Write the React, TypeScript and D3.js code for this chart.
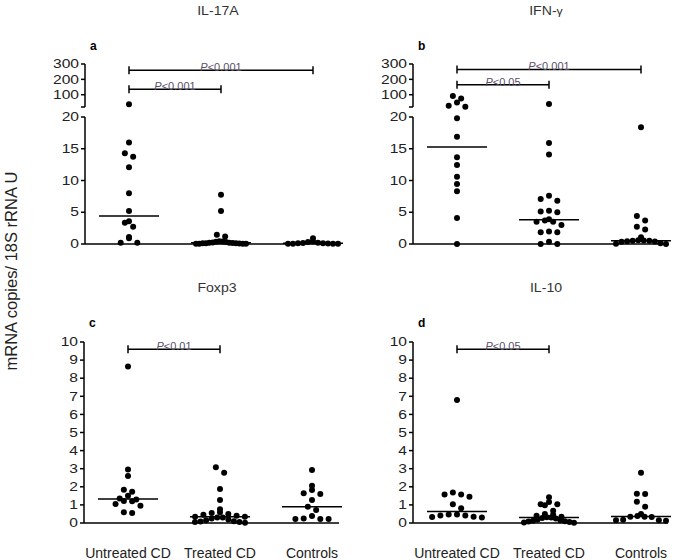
import React from "react";
import * as d3 from "d3";

const categories = ["Untreated CD", "Treated CD", "Controls"];

// Panel a: IL-17A
const il17aUntreated = [38, 16, 14.3, 13.75, 12.1, 8.0, 5.2, 3.6, 3.36, 2.73, 1.1, 0.9, 0.2, 0.2];
const il17aTreated = [7.77, 5.2, 1.47, 1.2, 0.45, 0.4, 0.35, 0.3, 0.25, 0.2, 0.18, 0.15, 0.12, 0.1, 0.1, 0.08, 0.05, 0.05, 0.03, 0.02];
const il17aControls = [0.9, 0.4, 0.3, 0.2, 0.15, 0.1, 0.1, 0.08, 0.05, 0.05, 0.03, 0.02];

// Panel b: IFN-gamma
const ifnUntreated = [92, 75, 50, 28, 22, 19.8, 16.9, 13.65, 12.45, 10.6, 9.45, 8.3, 4.1, 0];
const ifnTreated = [39.5, 15.9, 14.1, 7.6, 7.1, 6.8, 5.25, 5.1, 5.0, 3.9, 3.7, 3.5, 3.5, 3.0, 1.95, 1.85, 1.85, 0.37, 0, 0];
const ifnControls = [18.4, 4.4, 3.7, 2.7, 2.3, 1.05, 0.6, 0.55, 0.5, 0.5, 0.45, 0.4, 0.35, 0.1, 0.05, 0.0];

// Panel c: Foxp3
const foxUntreated = [8.64, 2.95, 2.6, 1.84, 1.73, 1.5, 1.35, 1.3, 1.22, 1.2, 1.05, 0.95, 0.6, 0.55];
const foxTreated = [3.08, 2.78, 1.88, 1.27, 0.76, 0.6, 0.55, 0.5, 0.45, 0.4, 0.35, 0.35, 0.3, 0.3, 0.25, 0.2, 0.15, 0.1, 0.08, 0.05, 0.05, 0.02];
const foxControls = [2.93, 2.06, 1.82, 1.64, 1.6, 1.27, 0.9, 0.72, 0.39, 0.25, 0.22, 0.22, 0.22];

// Panel d: IL-10
const il10Untreated = [6.8, 1.68, 1.58, 1.58, 1.45, 1.03, 0.81, 0.47, 0.47, 0.42, 0.42, 0.35, 0.33, 0.3];
const il10Treated = [1.42, 1.16, 1.03, 1.03, 0.98, 0.68, 0.5, 0.45, 0.4, 0.35, 0.32, 0.3, 0.28, 0.25, 0.2, 0.15, 0.12, 0.1, 0.08, 0.05, 0.03, 0.02];
const il10Controls = [2.78, 1.62, 1.6, 1.18, 0.9, 0.5, 0.38, 0.35, 0.35, 0.33, 0.18, 0.15, 0.15, 0.12];

// Ticks
const brokenLowerTicks = [0, 5, 10, 15, 20];
const brokenUpperTicks = [100, 200, 300];
const linearTicks = [0, 1, 2, 3, 4, 5, 6, 7, 8, 9, 10];

// Significance brackets: [fromIndex, toIndex, level (axis units), label]
const il17aBrackets: [number, number, number, string][] = [[0, 2, 260, "<0.001"], [0, 1, 135, "<0.001"]];
const ifnBrackets: [number, number, number, string][] = [[0, 2, 265, "<0.001"], [0, 1, 165, "<0.05"]];
const foxBrackets: [number, number, number, string][] = [[0, 1, 9.6, "<0.01"]];
const il10Brackets: [number, number, number, string][] = [[0, 1, 9.6, "<0.05"]];

const FONT = "'Liberation Sans', Arial, sans-serif";

// Column-scatter layout: group points into rows by pixel height,
// spread each row symmetrically (highest values in the middle),
// compressing the spacing if the row would be too wide.
function swarm(vals: number[], y: (v: number) => number, cx: number) {
  const step = 8.3, rowH = 5.5, maxW = 50;
  const pts = vals.map((v) => ({ v, y: y(v) })).sort((a, b) => b.y - a.y);
  const rows: { y: number }[][] = [];
  let cur: { y: number }[] = [];
  let start = 0;
  for (const p of pts) {
    if (cur.length === 0) {
      cur = [p];
      start = p.y;
    } else if (start - p.y < rowH) {
      cur.push(p);
    } else {
      rows.push(cur);
      cur = [p];
      start = p.y;
    }
  }
  if (cur.length) rows.push(cur);
  const placed: { x: number; y: number }[] = [];
  for (const row of rows) {
    const n = row.length;
    const sp = n > 1 ? Math.min(step, maxW / (n - 1)) : 0;
    const slots = d3.range(n).map((i) => i - (n - 1) / 2);
    slots.sort((a, b) => Math.abs(a) - Math.abs(b) || a - b);
    const byHeight = [...row].sort((a, b) => a.y - b.y);
    byHeight.forEach((p, i) => {
      placed.push({ x: cx + slots[i] * sp, y: p.y });
    });
  }
  return placed;
}

type PanelProps = {
  title: React.ReactNode;
  letter: string;
  groups: number[][];
  brackets: [number, number, number, string][];
  broken: boolean;
  axisX: number;
  top: boolean;
};

function Panel({ title, letter, groups, brackets, broken, axisX, top }: PanelProps) {
  const x = d3.scalePoint<string>().domain(categories).range([axisX + 44, axisX + 228]);
  const lower = broken
    ? d3.scaleLinear().domain([0, 20]).range([244, 117])
    : d3.scaleLinear().domain([0, 10]).range([523, 342]);
  const upper = d3.scaleLinear().domain([20, 300]).range([107, 64]);
  const yv = (v: number) => (broken && v > 20 ? upper(v) : lower(v));
  const baseY = lower(0);
  const axisEnd = axisX + 255;
  const titleY = top ? 15 : 292;
  const letterY = top ? 50 : 327;
  const midX = ((x(categories[0]) as number) + (x(categories[2]) as number)) / 2;

  const tickLabel = (v: number, yy: number) => (
    <g key={"t" + v + "-" + yy}>
      <line x1={axisX - 4} x2={axisX} y1={yy} y2={yy} stroke="#000" strokeWidth={1.5} />
      <text
        transform={`translate(${axisX - 6},${yy + 4.2}) scale(1.3,1)`}
        textAnchor="end"
        fontSize={12}
        fontFamily={FONT}
        fill="#222"
      >
        {v}
      </text>
    </g>
  );

  return (
    <g>
      <text
        transform={`translate(${midX - 3},${titleY}) scale(1.13,1)`}
        textAnchor="middle"
        fontSize={12.5}
        fontFamily={FONT}
        fill="#333"
      >
        {title}
      </text>
      <text x={axisX + 5} y={letterY} fontSize={12} fontWeight="bold" fontFamily={FONT} fill="#000">
        {letter}
      </text>

      {broken ? (
        <g>
          <line x1={axisX} x2={axisX} y1={lower(0)} y2={lower(20)} stroke="#000" strokeWidth={1.5} />
          <line x1={axisX} x2={axisX} y1={upper(20)} y2={upper(300)} stroke="#000" strokeWidth={1.5} />
          <line x1={axisX - 4} x2={axisX} y1={upper(20)} y2={upper(20)} stroke="#000" strokeWidth={1.5} />
          {brokenLowerTicks.map((t) => tickLabel(t, lower(t)))}
          {brokenUpperTicks.map((t) => tickLabel(t, upper(t)))}
        </g>
      ) : (
        <g>
          <line x1={axisX} x2={axisX} y1={lower(0)} y2={lower(10)} stroke="#000" strokeWidth={1.5} />
          {linearTicks.map((t) => tickLabel(t, lower(t)))}
        </g>
      )}

      <line x1={axisX} x2={axisEnd} y1={baseY} y2={baseY} stroke="#000" strokeWidth={1.6} />

      {groups.map((vals, gi) => {
        const cx = x(categories[gi]) as number;
        const pts = swarm(vals, yv, cx);
        const med = d3.median(vals) as number;
        return (
          <g key={gi}>
            {pts.map((p, i) => (
              <circle key={i} cx={p.x} cy={p.y} r={3} fill="#000" />
            ))}
            <line x1={cx - 30} x2={cx + 30} y1={yv(med)} y2={yv(med)} stroke="#000" strokeWidth={1.5} />
          </g>
        );
      })}

      {brackets.map(([a, b, lvl, lab], i) => {
        const x1 = x(categories[a]) as number;
        const x2 = x(categories[b]) as number;
        const yy = yv(lvl);
        return (
          <g key={"b" + i}>
            <line x1={x1} x2={x2} y1={yy} y2={yy} stroke="#000" strokeWidth={1.5} />
            <line x1={x1} x2={x1} y1={yy - 4} y2={yy + 4} stroke="#000" strokeWidth={1.5} />
            <line x1={x2} x2={x2} y1={yy - 4} y2={yy + 4} stroke="#000" strokeWidth={1.5} />
            <text
              x={(x1 + x2) / 2}
              y={yy + 1}
              textAnchor="middle"
              fontSize={11}
              fontFamily={FONT}
              fill="#5a4e68"
            >
              <tspan fontStyle="italic">P</tspan>
              {lab}
            </text>
          </g>
        );
      })}

      {!top &&
        categories.map((c) => (
          <text
            key={c}
            x={x(c) as number}
            y={558}
            textAnchor="middle"
            fontSize={14}
            fontFamily={FONT}
            fill="#222"
          >
            {c}
          </text>
        ))}
    </g>
  );
}

export default function App() {
  return (
    <svg
      width={686}
      height={560}
      style={{ position: "absolute", left: 0, top: 0, background: "#fff" }}
    >
      <rect width={686} height={560} fill="#fff" />
      <text
        transform="translate(17,271) rotate(-90)"
        textAnchor="middle"
        fontSize={16.5}
        fontFamily={FONT}
        fill="#222"
      >
        mRNA copies/ 18S rRNA U
      </text>
      <Panel
        title="IL-17A"
        letter="a"
        groups={[il17aUntreated, il17aTreated, il17aControls]}
        brackets={il17aBrackets}
        broken
        axisX={85}
        top
      />
      <Panel
        title={
          <>
            IFN-<tspan fontSize={11}>γ</tspan>
          </>
        }
        letter="b"
        groups={[ifnUntreated, ifnTreated, ifnControls]}
        brackets={ifnBrackets}
        broken
        axisX={413}
        top
      />
      <Panel
        title="Foxp3"
        letter="c"
        groups={[foxUntreated, foxTreated, foxControls]}
        brackets={foxBrackets}
        broken={false}
        axisX={84}
        top={false}
      />
      <Panel
        title="IL-10"
        letter="d"
        groups={[il10Untreated, il10Treated, il10Controls]}
        brackets={il10Brackets}
        broken={false}
        axisX={413}
        top={false}
      />
    </svg>
  );
}
